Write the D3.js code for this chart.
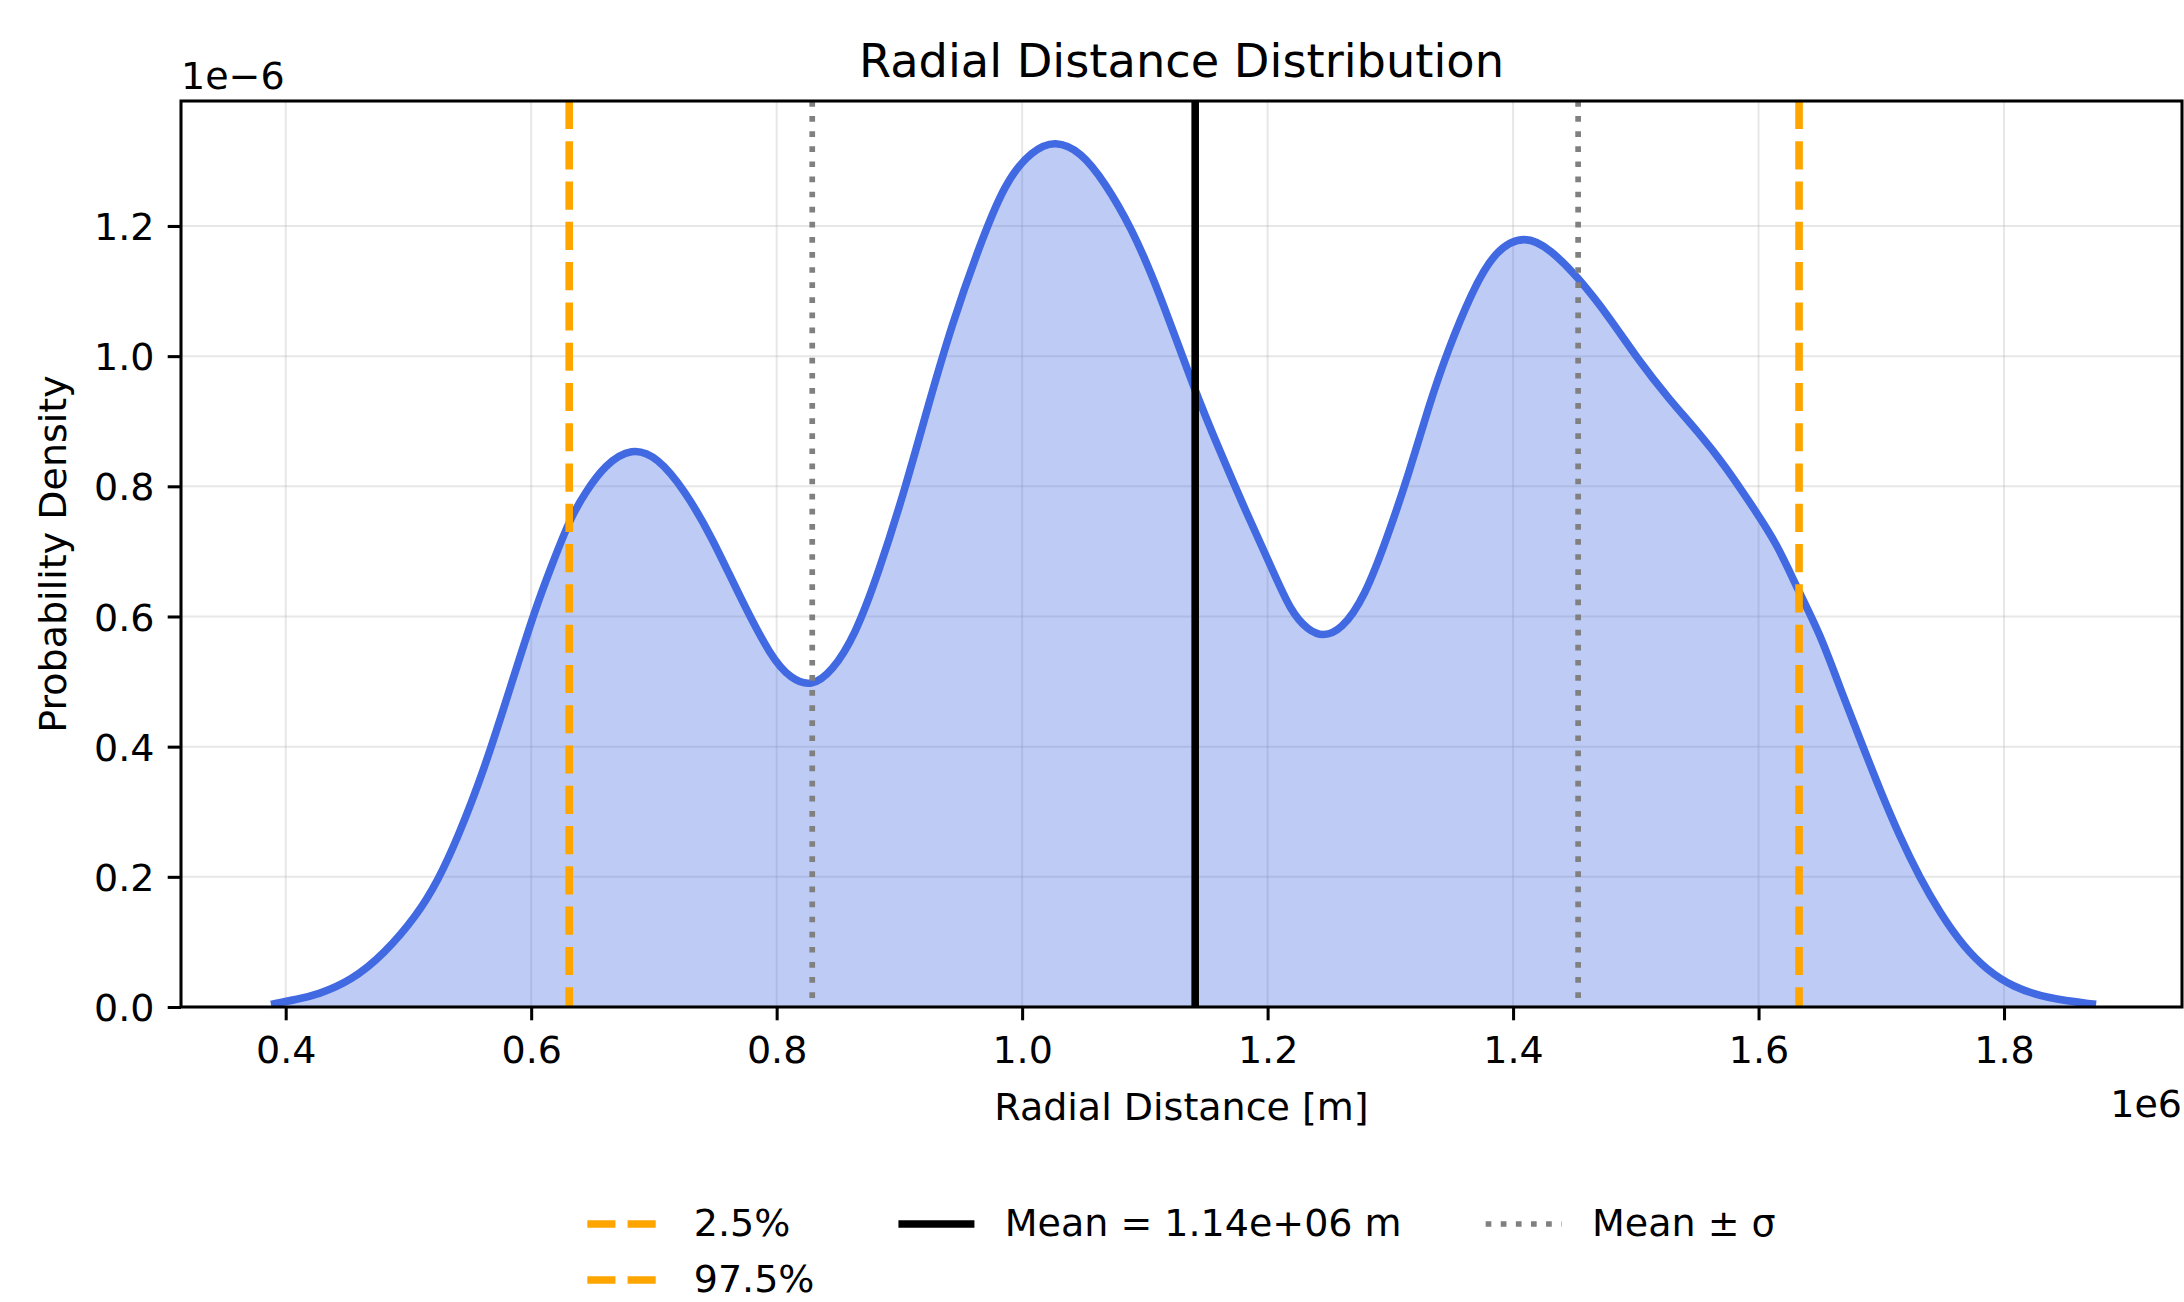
<!DOCTYPE html>
<html>
<head>
<meta charset="utf-8">
<script src="https://cdn.jsdelivr.net/npm/d3@7"></script>
<style>
  html, body { margin: 0; padding: 0; background: #fff; }
  svg { display: block; font-family: "DejaVu Sans", sans-serif; }
</style>
</head>
<body>
<div class="chart"></div>
<script>
// radial distance, in units of 1e6 m
const distance = [
    0.388, 0.410, 0.426, 0.453, 0.480, 0.507, 0.524, 0.540, 0.562, 0.584,
    0.603, 0.616, 0.632, 0.644, 0.660, 0.682, 0.703, 0.725, 0.747, 0.769,
    0.796, 0.812, 0.828, 0.845, 0.864, 0.883, 0.905, 0.924, 0.943, 0.964,
    0.986, 1.008, 1.027, 1.048, 1.067, 1.089, 1.111, 1.140, 1.162, 1.184,
    1.203, 1.219, 1.233, 1.245, 1.260, 1.279, 1.298, 1.315, 1.331, 1.347,
    1.366, 1.385, 1.410, 1.431, 1.453, 1.478, 1.502, 1.527, 1.551, 1.573,
    1.594, 1.615, 1.632, 1.650, 1.666, 1.683, 1.699, 1.715, 1.731, 1.748,
    1.767, 1.786, 1.807, 1.835, 1.875
];
// probability density, in units of 1e-6
const density = [
    0.004, 0.012, 0.019, 0.040, 0.081, 0.141, 0.194, 0.259, 0.366, 0.497,
    0.610, 0.675, 0.752, 0.790, 0.833, 0.860, 0.845, 0.794, 0.723, 0.634,
    0.535, 0.504, 0.492, 0.515, 0.571, 0.667, 0.798, 0.928, 1.050, 1.163,
    1.268, 1.316, 1.332, 1.314, 1.268, 1.198, 1.102, 0.950, 0.850, 0.754,
    0.676, 0.607, 0.579, 0.569, 0.579, 0.629, 0.724, 0.819, 0.922, 1.010,
    1.097, 1.163, 1.187, 1.163, 1.121, 1.061, 0.994, 0.934, 0.883, 0.831,
    0.772, 0.712, 0.641, 0.574, 0.492, 0.410, 0.333, 0.262, 0.200, 0.144,
    0.093, 0.057, 0.031, 0.013, 0.004
];

const xTicks = [0.4, 0.6, 0.8, 1.0, 1.2, 1.4, 1.6, 1.8];
const yTicks = [0.0, 0.2, 0.4, 0.6, 0.8, 1.0, 1.2];

// percentiles, mean and std (1e6 m)
const p025 = 0.631, p975 = 1.633;
const mean = 1.141, sigma = 0.312;

const legendLabels = ["2.5%", "97.5%", "Mean = 1.14e+06 m", "Mean \u00b1 \u03c3"];

// ---- layout
const W = 2184, H = 1302;
const margin = {top: 101, right: 2, bottom: 295, left: 181};
const width = W - margin.left - margin.right,
      height = H - margin.top - margin.bottom;
const fs = 38;          // 10pt at figure dpi
const pt = 3.8;         // px per point

const svg = d3.select(".chart").append("svg")
    .attr("width", W)
    .attr("height", H);

const g = svg.append("g")
    .attr("transform", "translate(" + margin.left + "," + margin.top + ")");

const x = d3.scaleLinear().domain([0.3147, 1.945]).range([0, width]);
const y = d3.scaleLinear().domain([0, 1.392]).range([height, 0]);

// grid
g.append("g")
    .selectAll("line")
    .data(xTicks)
    .join("line")
    .attr("x1", d => x(d)).attr("x2", d => x(d))
    .attr("y1", 0).attr("y2", height)
    .attr("stroke", "#b0b0b0").attr("stroke-opacity", 0.3).attr("stroke-width", 2);
g.append("g")
    .selectAll("line")
    .data(yTicks)
    .join("line")
    .attr("x1", 0).attr("x2", width)
    .attr("y1", d => y(d)).attr("y2", d => y(d))
    .attr("stroke", "#b0b0b0").attr("stroke-opacity", 0.3).attr("stroke-width", 2);

const pts = distance.map((d, i) => [d, density[i]]);

// filled kde
g.append("path")
    .datum(pts)
    .attr("fill", "royalblue")
    .attr("fill-opacity", 0.35)
    .attr("d", d3.area()
        .x(d => x(d[0]))
        .y0(y(0))
        .y1(d => y(d[1]))
        .curve(d3.curveBasis));

g.append("path")
    .datum(pts)
    .attr("fill", "none")
    .attr("stroke", "royalblue")
    .attr("stroke-width", 2 * pt)
    .attr("stroke-linejoin", "round")
    .attr("d", d3.line()
        .x(d => x(d[0]))
        .y(d => y(d[1]))
        .curve(d3.curveBasis));

// vertical reference lines
const styles = [
    {color: "orange", w: 2 * pt, dash: (3.7 * 2 * pt) + "," + (1.6 * 2 * pt)},
    {color: "orange", w: 2 * pt, dash: (3.7 * 2 * pt) + "," + (1.6 * 2 * pt)},
    {color: "black", w: 2 * pt, dash: null},
    {color: "gray", w: 1.5 * pt, dash: (1.5 * pt) + "," + (1.65 * 1.5 * pt)}
];
const vlines = [
    {v: p025, s: styles[0]},
    {v: p975, s: styles[1]},
    {v: mean, s: styles[2]},
    {v: mean - sigma, s: styles[3]},
    {v: mean + sigma, s: styles[3]}
];
g.append("g")
    .selectAll("line")
    .data(vlines)
    .join("line")
    .attr("x1", d => x(d.v)).attr("x2", d => x(d.v))
    .attr("y1", 0).attr("y2", height)
    .attr("stroke", d => d.s.color)
    .attr("stroke-width", d => d.s.w)
    .attr("stroke-dasharray", d => d.s.dash);

// axes
const xAxis = g.append("g")
    .attr("transform", "translate(0," + height + ")")
    .call(d3.axisBottom(x).tickValues(xTicks).tickFormat(d3.format(".1f"))
        .tickSize(3.5 * pt).tickPadding(3.5 * pt));
const yAxis = g.append("g")
    .call(d3.axisLeft(y).tickValues(yTicks).tickFormat(d3.format(".1f"))
        .tickSize(3.5 * pt).tickPadding(3.5 * pt));

[xAxis, yAxis].forEach(a => {
    a.select(".domain").remove();
    a.selectAll(".tick line").attr("stroke", "#000").attr("stroke-width", 0.8 * pt);
    a.selectAll(".tick text")
        .attr("fill", "#000")
        .style("font-family", "DejaVu Sans")
        .style("font-size", fs + "px");
});
xAxis.selectAll(".tick text").attr("dy", null).attr("y", 3.5 * pt * 2 + 29);
yAxis.selectAll(".tick text").attr("dy", "0.36em");

// spines
g.append("rect")
    .attr("width", width).attr("height", height)
    .attr("fill", "none")
    .attr("stroke", "#000")
    .attr("stroke-width", 0.8 * pt);

// texts
svg.append("text")
    .attr("x", margin.left + width / 2).attr("y", 77)
    .attr("text-anchor", "middle")
    .style("font-size", "46.3px")
    .text("Radial Distance Distribution");

svg.append("text")
    .attr("x", margin.left + width / 2).attr("y", 1120)
    .attr("text-anchor", "middle")
    .style("font-size", fs + "px")
    .text("Radial Distance [m]");

svg.append("text")
    .attr("transform", "translate(66," + (margin.top + height / 2) + ") rotate(-90)")
    .attr("text-anchor", "middle")
    .style("font-size", fs + "px")
    .text("Probability Density");

svg.append("text")
    .attr("x", margin.left).attr("y", 89)
    .style("font-size", fs + "px")
    .text("1e\u22126");

svg.append("text")
    .attr("x", margin.left + width).attr("y", 1117)
    .attr("text-anchor", "end")
    .style("font-size", fs + "px")
    .text("1e6");

// legend, 3 columns, filled column by column
const legendStyles = [styles[0], styles[1], styles[2], styles[3]];
const columns = [[0, 1], [2], [3]];
const handleLen = 2 * fs, handlePad = 0.8 * fs, colSpace = 2 * fs + 8;
const rowBase = [1236, 1292];

const legend = svg.append("g");
const measure = legend.append("text").style("font-size", fs + "px");
const textW = legendLabels.map(t => { measure.text(t); return measure.node().getComputedTextLength(); });
measure.remove();

const colW = columns.map(c => handleLen + handlePad + d3.max(c, i => textW[i]));
const total = d3.sum(colW) + colSpace * (columns.length - 1);
let cx = margin.left + width / 2 - total / 2;

columns.forEach((col, ci) => {
    col.forEach((i, ri) => {
        const s = legendStyles[i];
        const by = rowBase[ri];
        legend.append("line")
            .attr("x1", cx).attr("x2", cx + handleLen)
            .attr("y1", by - 12).attr("y2", by - 12)
            .attr("stroke", s.color)
            .attr("stroke-width", s.w)
            .attr("stroke-dasharray", s.dash);
        legend.append("text")
            .attr("x", cx + handleLen + handlePad).attr("y", by)
            .style("font-size", fs + "px")
            .text(legendLabels[i]);
    });
    cx += colW[ci] + colSpace;
});
</script>
</body>
</html>
